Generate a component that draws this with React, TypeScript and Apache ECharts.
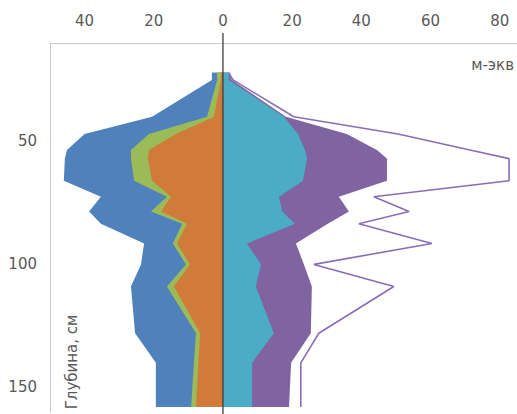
import React, { useEffect, useRef } from "react";
import * as echarts from "echarts";

// Depth of each sampling row (cm)
const depthCm = [22, 25, 40, 47, 53.5, 57, 66, 72.5, 78.5, 83.5, 91.5, 100, 109, 128, 140, 158];

// Left side (plotted to the left of zero), outer edges of each layer
const blueLeft = [3.2, 3.2, 20.5, 40, 45.1, 45.7, 46, 35.3, 38.7, 35.3, 22.8, 23.7, 26.6, 25.4, 19.4, 19.4];
const greenLeft = [1.7, 1.7, 4.6, 21.4, 26.6, 26.6, 25.7, 16.2, 20.8, 11.8, 14.5, 10.7, 16.2, 7.8, 8.4, 9.2];
const orangeLeft = [0.6, 0.6, 2.6, 13.6, 21.4, 21.7, 20.5, 15.0, 17.9, 10.4, 13.3, 9.5, 14.2, 6.6, 7.1, 7.8];

// Right side
const cyanRight = [1.7, 1.7, 17.6, 21.7, 23.7, 24.3, 23.1, 16.2, 17.1, 20.8, 6.9, 11, 9.5, 14.7, 8.4, 8.4];
const purpleRight = [1.7, 2.6, 18.2, 35.8, 44.5, 47.4, 47.4, 33.5, 36.4, 30.3, 21.1, 23.4, 25.7, 25.4, 19.7, 19.1];
const totalLine = [1.7, 2.9, 20.5, 50.6, 71.4, 82.7, 82.7, 43.6, 53.8, 39.3, 60.4, 26.3, 49.4, 27.7, 22.5, 22.5];

const xTickLabels = [-40, -20, 0, 20, 40, 60, 80];
const yTickLabels = [50, 100, 150];

const FONT = "DejaVu Sans";
const TEXT = "#595959";

function areaSeries(name: string, values: number[], sign: number, color: string, z: number) {
  return {
    type: "custom",
    name,
    z,
    silent: true,
    encode: { x: 0, y: 1 },
    data: depthCm.map((d, i) => [sign * values[i], d]),
    renderItem: (params: any, api: any) => {
      if (params.dataIndexInside !== 0) return null;
      const n = params.dataInsideLength;
      const pts: number[][] = [];
      pts.push(api.coord([0, api.value(1, 0)]));
      for (let i = 0; i < n; i++) pts.push(api.coord([api.value(0, i), api.value(1, i)]));
      pts.push(api.coord([0, api.value(1, n - 1)]));
      return { type: "polygon", shape: { points: pts }, style: { fill: color, stroke: null } };
    },
  };
}

export default function App() {
  const ref = useRef<HTMLDivElement>(null);
  useEffect(() => {
    const chart = echarts.init(ref.current!, null, { renderer: "svg" });
    chart.setOption({
      animation: false,
      textStyle: { fontFamily: FONT },
      grid: { left: 50, top: 43, right: 0, bottom: 2, containLabel: false },
      xAxis: {
        type: "value",
        position: "top",
        min: -50,
        max: 85,
        axisLine: { show: true, onZero: false, lineStyle: { color: "#c8c8c8", width: 1 } },
        axisTick: { show: false },
        splitLine: { show: false },
        axisLabel: {
          customValues: xTickLabels,
          formatter: (v: number) => String(Math.abs(v)),
          color: TEXT,
          fontSize: 15,
          fontFamily: FONT,
          margin: 15,
        },
      },
      yAxis: {
        type: "value",
        inverse: true,
        min: 10,
        max: 160,
        position: "left",
        axisLine: { show: true, onZero: false, lineStyle: { color: "#c8c8c8", width: 1 } },
        axisTick: { show: false },
        splitLine: { show: false },
        axisLabel: {
          customValues: yTickLabels,
          color: TEXT,
          fontSize: 15,
          fontFamily: FONT,
          margin: 13,
        },
      },
      series: [
        areaSeries("blue", blueLeft, -1, "#4F81BD", 1),
        areaSeries("green", greenLeft, -1, "#9BBB59", 2),
        areaSeries("orange", orangeLeft, -1, "#D17B3A", 3),
        areaSeries("purple", purpleRight, 1, "#8064A2", 1),
        areaSeries("cyan", cyanRight, 1, "#4BACC6", 2),
        {
          type: "line",
          name: "total",
          z: 4,
          silent: true,
          showSymbol: false,
          data: depthCm.map((d, i) => [totalLine[i], d]),
          lineStyle: { color: "#8A6DB8", width: 1.6 },
        },
      ],
    });
    const x0 = chart.convertToPixel({ xAxisIndex: 0 }, 0) as number;
    chart.setOption({
      graphic: [
        {
          type: "line",
          z: 100,
          shape: { x1: x0, y1: 33, x2: x0, y2: 414 },
          style: { stroke: "#3d3d3d", lineWidth: 1.3 },
        },
        {
          type: "text",
          z: 100,
          x: 514,
          y: 65,
          style: {
            text: "м-экв",
            fill: TEXT,
            font: `15px "${FONT}"`,
            textAlign: "right",
            textVerticalAlign: "middle",
          },
        },
        {
          type: "text",
          z: 100,
          x: 72,
          y: 362,
          rotation: Math.PI / 2,
          style: {
            text: "Глубина, см",
            fill: TEXT,
            font: `15px "${FONT}"`,
            textAlign: "center",
            textVerticalAlign: "middle",
          },
        },
      ],
    });
    return () => chart.dispose();
  }, []);
  return <div ref={ref} style={{ position: "absolute", left: 0, top: 0, width: 517, height: 414 }} />;
}
